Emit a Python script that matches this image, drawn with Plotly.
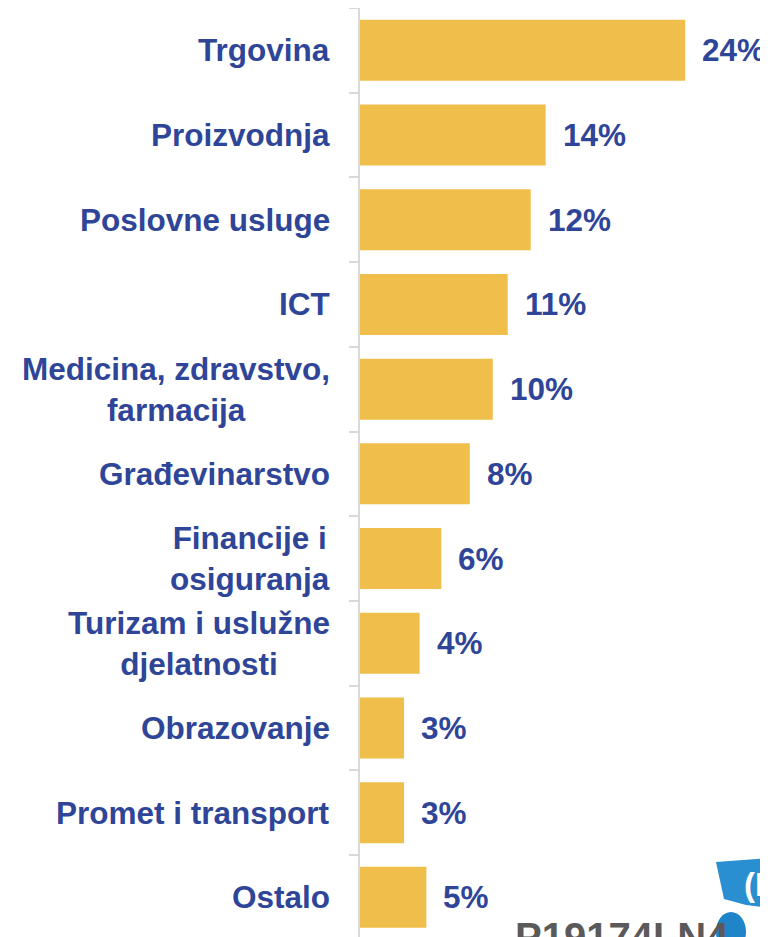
import plotly.graph_objects as go

# categories top to bottom, as in the picture
categories = [
    "Trgovina",
    "Proizvodnja",
    "Poslovne usluge",
    "ICT",
    "Medicina, zdravstvo,<br>farmacija",
    "Građevinarstvo",
    "Financije i<br>osiguranja",
    "Turizam i uslužne<br>djelatnosti",
    "Obrazovanje",
    "Promet i transport",
    "Ostalo",
]
shares = [24.0, 13.7, 12.6, 10.9, 9.8, 8.1, 6.0, 4.4, 3.25, 3.25, 4.9]
share_labels = ["24%", "14%", "12%", "11%", "10%", "8%", "6%", "4%", "3%", "3%", "5%"]

BLUE = "#2E4598"
GOLD = "#F0BE4A"
GRID = "#D9D9D9"
FONT = "Liberation Sans, Arial, sans-serif"

# page body has an 8px margin, so the figure sits 8px in from the top left
W, H = 760, 929
L, T = 352, 0
PW, PH = W - L, H - T
ROW = 84.7  # px per category row


def px(x, y):
    # screen pixel -> paper coords
    return (x - 8 - L) / PW, (H + 8 - y) / PH


fig = go.Figure(
    go.Bar(
        x=shares,
        y=categories,
        orientation="h",
        marker=dict(color=GOLD, line=dict(width=0)),
        hoverinfo="skip",
    )
)

annotations = []
for cat in categories:
    annotations.append(
        dict(
            x=0, xref="paper", y=cat, yref="y",
            text=f"<b>{cat}</b>", showarrow=False,
            xanchor="right", align="center", xshift=-28,
            font=dict(family=FONT, size=31.5, color=BLUE),
        )
    )
for cat, val, lab in zip(categories, shares, share_labels):
    annotations.append(
        dict(
            x=val, xref="x", y=cat, yref="y",
            text=f"<b>{lab}</b>", showarrow=False,
            xanchor="left", xshift=15,
            font=dict(family=FONT, size=31.5, color=BLUE),
        )
    )

# watermark, cut off at the bottom edge
wx, wy = px(513, 913)
annotations.append(
    dict(
        x=wx, xref="paper", y=wy, yref="paper",
        text="<b>P19174LN4</b>", showarrow=False,
        xanchor="left", yanchor="top",
        font=dict(family=FONT, size=40, color="#5A5A5A"),
    )
)
rx, ry = px(742, 864)
annotations.append(
    dict(
        x=rx, xref="paper", y=ry, yref="paper",
        text="<b>(R</b>", showarrow=False, xanchor="left", yanchor="top",
        font=dict(family=FONT, size=33, color="white"),
    )
)

fig.update_layout(
    width=W,
    height=H,
    margin=dict(l=L, r=0, t=T, b=0),
    paper_bgcolor="white",
    plot_bgcolor="white",
    bargap=0.28,
    showlegend=False,
    annotations=annotations,
    xaxis=dict(visible=False, range=[0, PW / 13.55]),
    yaxis=dict(
        type="category",
        categoryorder="array",
        categoryarray=categories[::-1],
        range=[10.5 - PH / ROW, 10.5],
        showticklabels=False,
        tickson="boundaries",
        ticks="outside",
        ticklen=9,
        tickwidth=2,
        tickcolor=GRID,
        showline=True,
        linecolor=GRID,
        linewidth=2,
        showgrid=False,
        zeroline=False,
    ),
)

# blue logo flag and figure at bottom right
flag = [(716, 862), (770, 858), (770, 908), (746, 905), (724, 899)]
pts = [px(x, y) for x, y in flag]
path = "M " + " L ".join(f"{x:.4f} {y:.4f}" for x, y in pts) + " Z"
fig.add_shape(
    type="path", xref="paper", yref="paper", path=path,
    fillcolor="#2A8FD0", line=dict(width=0), layer="below",
)
x0, y1 = px(716, 912)
x1, y0 = px(746, 952)
fig.add_shape(
    type="circle", xref="paper", yref="paper", x0=x0, x1=x1, y0=y0, y1=y1,
    fillcolor="#1F84C8", line=dict(width=0), layer="below",
)

fig.write_html("out.html")
